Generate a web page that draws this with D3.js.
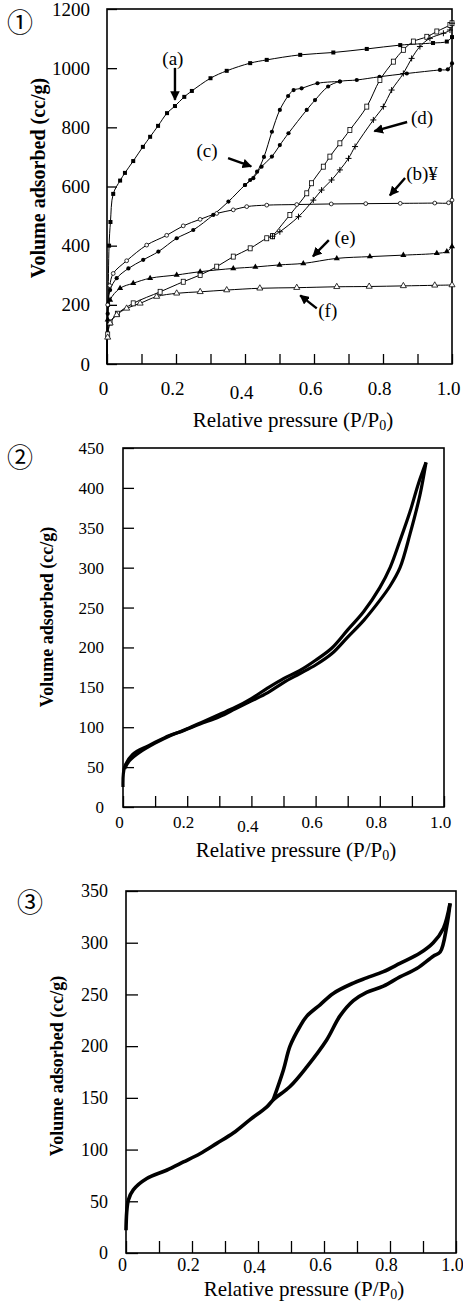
<!DOCTYPE html>
<html>
<head>
<meta charset="utf-8">
<script src="https://cdn.jsdelivr.net/npm/d3@7"></script>
<style>
  body { margin: 0; background: #fff; }
  text { font-family: "Liberation Serif", "Times New Roman", serif; fill: #000; }
</style>
</head>
<body>
<div id="fig"></div>
<script>
// ---- data: [P/P0, volume adsorbed cc/g] ----

// panel 1
const isoA = [[0,0],[0.003,200],[0.006,400],[0.01,480],[0.018,575],[0.038,620],[0.052,646],[0.076,686],[0.104,734],[0.125,768],[0.148,805],[0.174,848],[0.197,872],[0.224,903],[0.246,923],[0.30,966],[0.347,991],[0.415,1017],[0.463,1028],[0.56,1045],[0.656,1053],[0.753,1065],[0.85,1078],[0.945,1085],[0.985,1090],[1.0,1105]];
const isoB = [[0,0],[0.002,200],[0.008,265],[0.018,306],[0.057,349],[0.115,402],[0.173,435],[0.221,467],[0.27,489],[0.318,509],[0.366,521],[0.405,532],[0.463,537],[0.55,539],[0.65,541],[0.75,542],[0.85,543],[0.95,544],[0.99,545],[1.0,554]];
const isoCAds = [[0,0],[0.002,170],[0.009,250],[0.028,290],[0.062,323],[0.105,352],[0.149,380],[0.202,425],[0.25,453],[0.308,504],[0.352,549],[0.40,605],[0.424,628],[0.448,667],[0.478,701],[0.501,740],[0.526,780],[0.579,859],[0.603,892],[0.641,938],[0.675,955],[0.724,960],[0.79,971],[0.869,982],[0.965,994],[0.988,996],[1.0,1016]];
const isoCDes = [[0.675,955],[0.61,949],[0.564,932],[0.541,926],[0.525,906],[0.501,859],[0.478,785],[0.455,700],[0.435,650],[0.415,622],[0.40,605]];
const isoDLow = [[0,0],[0.002,100],[0.009,140],[0.03,170],[0.076,205],[0.154,244],[0.221,278],[0.27,301],[0.318,329],[0.366,363],[0.415,391],[0.463,425],[0.48,432]];
const isoDUp = [[0.48,432],[0.53,504],[0.579,577],[0.593,611],[0.627,667],[0.646,701],[0.675,746],[0.704,791],[0.753,870],[0.791,960],[0.83,1022],[0.859,1062],[0.888,1090],[0.927,1106],[0.956,1124],[0.994,1146],[1.0,1152]];
const isoDDn = [[0.48,432],[0.501,447],[0.555,498],[0.598,554],[0.622,588],[0.651,622],[0.675,656],[0.70,695],[0.719,735],[0.772,825],[0.801,870],[0.825,926],[0.859,982],[0.883,1033],[0.907,1073],[0.936,1101],[0.975,1118],[0.994,1129],[1.0,1152]];
const isoE = [[0,0],[0.002,150],[0.009,216],[0.038,256],[0.076,273],[0.125,290],[0.202,301],[0.27,312],[0.366,323],[0.43,328],[0.50,335],[0.569,340],[0.666,357],[0.762,363],[0.859,368],[0.956,374],[0.985,380],[1.0,397]];
const isoF = [[0,0],[0.002,90],[0.009,138],[0.028,166],[0.057,188],[0.096,205],[0.144,228],[0.202,239],[0.27,244],[0.347,250],[0.443,256],[0.55,258],[0.666,261],[0.76,262],[0.859,264],[0.95,266],[1.0,267]];

// panel 1 labels: text, label point, arrow start, arrow end (data coords)
const notes1 = [
  {t:"(a)",   at:[0.191,1034], from:[0.197,1001], to:[0.197,893]},
  {t:"(c)",   at:[0.29,723],   from:[0.351,696],  to:[0.418,668]},
  {t:"(d)",   at:[0.913,835],  from:[0.87,818],   to:[0.775,787]},
  {t:"(b)¥",  at:[0.913,646],  from:[0.864,629],  to:[0.82,570]},
  {t:"(e)",   at:[0.69,429],   from:[0.643,419],  to:[0.597,364]},
  {t:"(f)",   at:[0.64,183],   from:[0.608,188],  to:[0.56,232]}
];

// panel 2
const p2Ads = [[0,25],[0.005,50],[0.03,66],[0.08,77],[0.13,87],[0.19,96],[0.24,104],[0.30,113],[0.35,123],[0.40,133],[0.45,143],[0.50,156],[0.55,167],[0.60,178],[0.65,192],[0.70,213],[0.75,234],[0.80,259],[0.832,277],[0.863,300],[0.894,342],[0.925,391],[0.944,432]];
const p2Des = [[0.944,432],[0.92,405],[0.894,370],[0.863,334],[0.832,300],[0.80,275],[0.75,245],[0.70,222],[0.65,199],[0.60,184],[0.55,171],[0.50,161],[0.45,149],[0.40,136],[0.35,125],[0.30,116],[0.25,107],[0.20,98],[0.15,90],[0.10,80],[0.05,68],[0.02,58],[0.005,48]];

// panel 3
const p3Ads = [[0,22],[0.007,51],[0.022,61],[0.063,72],[0.123,80],[0.174,88],[0.224,96],[0.275,106],[0.325,116],[0.376,129],[0.426,141],[0.446,148],[0.497,161],[0.548,180],[0.608,206],[0.648,229],[0.689,244],[0.729,252],[0.78,258],[0.83,267],[0.881,275],[0.931,287],[0.952,291],[0.972,316],[0.982,338]];
const p3Des = [[0.982,338],[0.962,314],[0.931,300],[0.891,290],[0.83,280],[0.78,272],[0.729,266],[0.689,261],[0.628,251],[0.588,240],[0.548,229],[0.527,219],[0.497,200],[0.477,177],[0.446,148]];

const xTicks = d3.range(0, 1.001, 0.1);

const svg = d3.select("#fig").append("svg")
    .attr("width", 463).attr("height", 1302);

svg.append("defs").append("marker")
    .attr("id", "head")
    .attr("viewBox", "0 0 10 10")
    .attr("refX", 9).attr("refY", 5)
    .attr("markerWidth", 4).attr("markerHeight", 4)
    .attr("markerUnits", "strokeWidth")
    .attr("orient", "auto")
  .append("path").attr("d", "M0,0L10,5L0,10Z").attr("fill", "#000");

//draws one framed panel and returns its scales
function panel(c) {
    let g = svg.append("g");
    let x = d3.scaleLinear().domain([0, 1]).range([c.left, c.right]);
    let y = d3.scaleLinear().domain([0, c.yMax]).range([c.bottom, c.top]);

    let ax = g.append("g")
        .attr("transform", "translate(0," + c.bottom + ")")
        .call(d3.axisBottom(x).tickValues(xTicks).tickSizeInner(-c.tick).tickSizeOuter(0)
            .tickPadding(c.xPad)
            .tickFormat(v => Math.round(v * 10) % 2 ? "" : (v === 0 ? "0" : v.toFixed(1))));
    // the 0.4 label sits a little lower in the original
    ax.selectAll("text").attr("font-size", c.fs).attr("dx", -4)
        .attr("y", (d) => Math.abs(d - 0.4) < 1e-6 ? c.xPad + c.drop : c.xPad);

    let ay = g.append("g")
        .attr("transform", "translate(" + c.left + ",0)")
        .call(d3.axisLeft(y).tickValues(d3.range(0, c.yMax + 1, c.yStep))
            .tickFormat(d3.format("d"))
            .tickSizeInner(-c.tick).tickSizeOuter(0).tickPadding(c.yPad));
    ay.selectAll("text").attr("font-size", c.fs);

    g.selectAll(".domain").remove();
    g.selectAll(".tick line").attr("stroke", "#000").attr("stroke-width", 1.3);
    g.selectAll(".tick text").attr("fill", "#000")
        .style("font-family", "'Liberation Serif', serif");

    g.append("rect")
        .attr("x", c.left).attr("y", c.top)
        .attr("width", c.right - c.left).attr("height", c.bottom - c.top)
        .attr("fill", "none").attr("stroke", "#000").attr("stroke-width", 1.6);

    g.append("text")
        .attr("transform", "translate(" + c.yTitle[0] + "," + c.yTitle[1] + ") rotate(-90)")
        .attr("text-anchor", "middle").attr("font-weight", "bold")
        .attr("font-size", c.yFs)
        .text("Volume adsorbed (cc/g)");

    let xt = g.append("text")
        .attr("x", c.xTitle[0]).attr("y", c.xTitle[1])
        .attr("text-anchor", "middle").attr("font-size", 21);
    xt.append("tspan").text("Relative pressure (P/P");
    xt.append("tspan").attr("font-size", 14).attr("dy", 3).text("0");
    xt.append("tspan").attr("dy", -3).text(")");

    g.append("text")
        .attr("x", c.num[0]).attr("y", c.num[1])
        .attr("text-anchor", "middle").attr("dy", "0.36em")
        .style("font-family", "'Noto Sans CJK JP', 'DejaVu Sans', sans-serif")
        .attr("font-size", 26)
        .text(c.label);

    return {g: g, x: x, y: y};
}

// ---- panel 1 ----
let p1 = panel({left: 107, right: 452, top: 9, bottom: 364, yMax: 1200, yStep: 200,
    tick: 10, fs: 19, xPad: 18, drop: 4, yPad: 17, yFs: 20, yTitle: [45, 178], xTitle: [293, 427],
    num: [20, 23], label: "①"});

let line1 = d3.line().x(d => p1.x(d[0])).y(d => p1.y(d[1])).curve(d3.curveCatmullRom.alpha(0.5));

const curves1 = [
    {d: isoA, m: "sqF"}, {d: isoB, m: "cirO"}, {d: isoCAds, m: "cirF"}, {d: isoCDes, m: "cirF"},
    {d: isoDLow, m: "sqO"}, {d: isoDUp, m: "sqO"}, {d: isoDDn, m: "plus"},
    {d: isoE, m: "triF"}, {d: isoF, m: "triO"}
];

curves1.forEach(function(s) {
    p1.g.append("path").datum(s.d).attr("d", line1)
        .attr("fill", "none").attr("stroke", "#000").attr("stroke-width", 1);
});

let tri = d3.symbol().type(d3.symbolTriangle).size(16);
curves1.forEach(function(s) {
    let pts = s.d.filter(d => d[1] > 0);
    let sel = p1.g.append("g").selectAll("g").data(pts).join("g")
        .attr("transform", d => "translate(" + p1.x(d[0]) + "," + p1.y(d[1]) + ")");
    if (s.m === "sqF") {
        sel.append("rect").attr("x", -2).attr("y", -2).attr("width", 4).attr("height", 4).attr("fill", "#000");
    } else if (s.m === "cirO") {
        sel.append("circle").attr("r", 1.9).attr("fill", "#fff").attr("stroke", "#000").attr("stroke-width", 0.8);
    } else if (s.m === "cirF") {
        sel.append("circle").attr("r", 2.1).attr("fill", "#000");
    } else if (s.m === "sqO") {
        sel.append("rect").attr("x", -2).attr("y", -2.5).attr("width", 4).attr("height", 5)
            .attr("fill", "#fff").attr("stroke", "#000").attr("stroke-width", 0.8);
    } else if (s.m === "plus") {
        sel.append("path").attr("d", "M-3,0H3M0,-3V3").attr("stroke", "#000").attr("stroke-width", 1);
    } else if (s.m === "triF") {
        sel.append("path").attr("d", tri).attr("fill", "#000");
    } else if (s.m === "triO") {
        sel.append("path").attr("d", tri).attr("fill", "#fff").attr("stroke", "#000").attr("stroke-width", 0.8);
    }
});

notes1.forEach(function(n) {
    p1.g.append("text").attr("x", p1.x(n.at[0])).attr("y", p1.y(n.at[1]))
        .attr("text-anchor", "middle").attr("dy", "0.35em").attr("font-size", 19).text(n.t);
    p1.g.append("line")
        .attr("x1", p1.x(n.from[0])).attr("y1", p1.y(n.from[1]))
        .attr("x2", p1.x(n.to[0])).attr("y2", p1.y(n.to[1]))
        .attr("stroke", "#000").attr("stroke-width", 2.4)
        .attr("marker-end", "url(#head)");
});

// ---- panel 2 ----
let p2 = panel({left: 123, right: 444, top: 448, bottom: 807, yMax: 450, yStep: 50,
    tick: 11, fs: 17, xPad: 9, drop: 4, yPad: 19, yFs: 18, yTitle: [53, 617], xTitle: [296, 857],
    num: [20, 458], label: "②"});

let line2 = d3.line().x(d => p2.x(d[0])).y(d => p2.y(d[1])).curve(d3.curveCatmullRom.alpha(0.5));
[p2Ads, p2Des].forEach(function(s) {
    p2.g.append("path").datum(s).attr("d", line2)
        .attr("fill", "none").attr("stroke", "#000").attr("stroke-width", 3.2)
        .attr("stroke-linejoin", "round");
});

// ---- panel 3 ----
let p3 = panel({left: 126, right: 456, top: 891, bottom: 1253, yMax: 350, yStep: 50,
    tick: 12, fs: 18, xPad: 5, drop: 2, yPad: 18, yFs: 18, yTitle: [63, 1066], xTitle: [304, 1296],
    num: [30, 903], label: "③"});

let line3 = d3.line().x(d => p3.x(d[0])).y(d => p3.y(d[1])).curve(d3.curveCatmullRom.alpha(0.5));
[p3Ads, p3Des].forEach(function(s) {
    p3.g.append("path").datum(s).attr("d", line3)
        .attr("fill", "none").attr("stroke", "#000").attr("stroke-width", 3.6)
        .attr("stroke-linejoin", "round");
});
</script>
</body>
</html>
